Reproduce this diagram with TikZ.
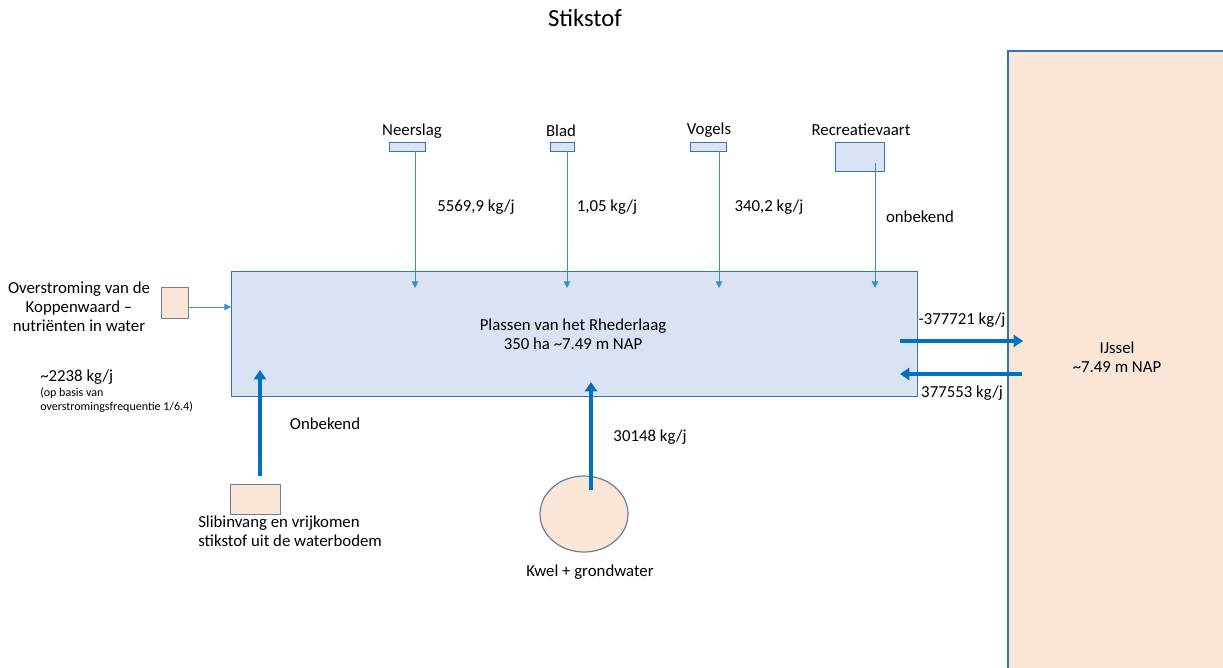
\documentclass[tikz,border=0pt]{standalone}
\usepackage{fontspec}
\setmainfont{Carlito}
\usetikzlibrary{arrows.meta,shapes.geometric}
\definecolor{lblue}{HTML}{DAE3F3}
\definecolor{peach}{HTML}{FBE5D6}
\definecolor{bordblue}{HTML}{2E75B6}
\definecolor{arrblue}{HTML}{0070C0}
\definecolor{thinblue}{HTML}{3C8DD0}
\definecolor{greyb}{HTML}{6B7F99}
\tikzset{
  x=0.75pt,y=-0.75pt,
  txt/.style={font=\fontsize{12.6}{14.4}\selectfont,inner sep=0pt,align=center},
  small/.style={font=\fontsize{9}{10.5}\selectfont,inner sep=0pt,align=left},
  srcbox/.style={draw=bordblue,line width=0.9pt,fill=lblue,inner sep=0pt},
  peachbox/.style={draw=greyb,line width=0.9pt,fill=peach,inner sep=0pt},
  thinarr/.style={draw=thinblue,line width=0.7pt,-{Triangle[length=5pt,width=5pt]}},
  thickarr/.style={draw=arrblue,line width=3pt,-{Triangle[length=7pt,width=9pt]}}
}
\begin{document}
\begin{tikzpicture}
\useasboundingbox (0,0) rectangle (1223,667);
% title
\node[txt,font=\fontsize{18.5}{21}\selectfont] (title) at (585,18) {Stikstof};
% IJssel
\draw[draw=bordblue,line width=0.9pt,fill=peach] (1008,51) rectangle (1240,690);
\node[txt] (ijssel) at (1117,357) {IJssel\\\textasciitilde7.49 m NAP};
% main lake
\node[srcbox,minimum width=686*0.75pt,minimum height=125*0.75pt,anchor=north west] (lake) at (231,271) {};
\node[txt] (laketxt) at (573,334) {Plassen van het Rhederlaag\\350 ha \textasciitilde7.49 m NAP};
% top sources
\node[srcbox,minimum width=36*0.75pt,minimum height=9*0.75pt,anchor=north west] (neer) at (389,142) {};
\node[srcbox,minimum width=24*0.75pt,minimum height=9*0.75pt,anchor=north west] (blad) at (550,142) {};
\node[srcbox,minimum width=36*0.75pt,minimum height=9*0.75pt,anchor=north west] (vog) at (690,142) {};
\node[srcbox,minimum width=49*0.75pt,minimum height=29*0.75pt,anchor=north west] (rec) at (835,142) {};
\node[txt] (neerl) at (412,131) {Neerslag};
\node[txt] (bladl) at (561,131) {Blad};
\node[txt] (vogl) at (709,130) {Vogels};
\node[txt] (recl) at (861,130) {Recreatievaart};
\coordinate (n1) at (415,151); \coordinate (n2) at (415,288);
\coordinate (b1) at (567,151); \coordinate (b2) at (567,288);
\coordinate (v1) at (719,151); \coordinate (v2) at (719,288);
\coordinate (r1) at (875,163); \coordinate (r2) at (875,288);
\draw[thinarr] (n1) -- (n2);
\draw[thinarr] (b1) -- (b2);
\draw[thinarr] (v1) -- (v2);
\draw[thinarr] (r1) -- (r2);
\node[txt] (nv) at (476,207) {5569,9 kg/j};
\node[txt] (bv) at (607,207) {1,05 kg/j};
\node[txt] (vv) at (769,207) {340,2 kg/j};
\node[txt] (rv) at (920,217) {onbekend};
% overstroming
\node[peachbox,minimum width=27*0.75pt,minimum height=31*0.75pt,anchor=north west] (ovs) at (161,287) {};
\coordinate (o2) at (231,307);
\draw[thinarr] (ovs.east |- o2) -- (o2);
\node[txt] (ovsl) at (79,307) {Overstroming van de\\Koppenwaard –\\nutriënten in water};
\node[txt,anchor=west] (ovv) at (40,377) {\textasciitilde2238 kg/j};
\node[small,anchor=north west] (ovn) at (40,387) {(op basis van\\overstromingsfrequentie 1/6.4)};
% slibinvang
\node[peachbox,minimum width=50*0.75pt,minimum height=30*0.75pt,anchor=north west] (slib) at (230,484) {};
\coordinate (s1) at (260,476); \coordinate (s2) at (260,370);
\draw[thickarr] (s1) -- (s2);
\node[txt] (slibv) at (325,424) {Onbekend};
\node[txt,align=left,anchor=west] (slibl) at (198,531) {Slibinvang en vrijkomen\\stikstof uit de waterbodem};
% kwel
\node[draw=greyb,line width=0.9pt,fill=peach,ellipse,minimum width=88*0.75pt,minimum height=76*0.75pt,inner sep=0pt] (kwel) at (584,514) {};
\coordinate (k1) at (591,490); \coordinate (k2) at (591,382);
\draw[thickarr] (k1) -- (k2);
\node[txt] (kwelv) at (650,437) {30148 kg/j};
\node[txt] (kwell) at (590,572) {Kwel + grondwater};
% exchange with IJssel
\coordinate (e1) at (900,341); \coordinate (e2) at (1023,341);
\coordinate (f1) at (1022,374); \coordinate (f2) at (900,374);
\draw[thickarr] (e1) -- (e2);
\draw[thickarr] (f1) -- (f2);
\node[txt] (ev) at (962,320) {-377721 kg/j};
\node[txt] (fv) at (962,393) {377553 kg/j};
\end{tikzpicture}
\end{document}
